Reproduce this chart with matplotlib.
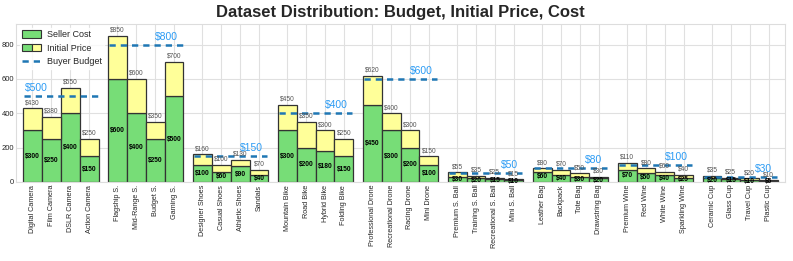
import numpy as np
import matplotlib.pyplot as plt
import seaborn as sns
from matplotlib.patches import Patch
from matplotlib.lines import Line2D
from matplotlib.legend_handler import HandlerTuple

sns.set_style('whitegrid')
plt.rcParams['font.family'] = ['Liberation Sans', 'DejaVu Sans']

items = [
    ['Digital Camera', 'Film Camera', 'DSLR Camera', 'Action Camera'],
    ['Flagship S.', 'Mid-Range S.', 'Budget S.', 'Gaming S.'],
    ['Designer Shoes', 'Casual Shoes', 'Athletic Shoes', 'Sandals'],
    ['Mountain Bike', 'Road Bike', 'Hybrid Bike', 'Folding Bike'],
    ['Professional Drone', 'Recreational Drone', 'Racing Drone', 'Mini Drone'],
    ['Premium S. Ball', 'Training S. Ball', 'Recreational S. Ball', 'Mini S. Ball'],
    ['Leather Bag', 'Backpack', 'Tote Bag', 'Drawstring Bag'],
    ['Premium Wine', 'Red Wine', 'White Wine', 'Sparkling Wine'],
    ['Ceramic Cup', 'Glass Cup', 'Travel Cup', 'Plastic Cup'],
]
budgets = [500, 800, 150, 400, 600, 50, 80, 100, 30]
initial_price = [
    [430, 380, 550, 250],
    [850, 600, 350, 700],
    [160, 100, 130, 70],
    [450, 350, 300, 250],
    [620, 400, 300, 150],
    [55, 35, 25, 15],
    [80, 70, 50, 30],
    [110, 80, 60, 40],
    [35, 25, 20, 10],
]
seller_cost = [
    [300, 250, 400, 150],
    [600, 400, 250, 500],
    [100, 60, 90, 40],
    [300, 200, 180, 150],
    [450, 300, 200, 100],
    [30, 20, 15, 10],
    [60, 40, 30, 20],
    [70, 50, 40, 25],
    [20, 15, 10, 5],
]

green = '#77dd77'
yellow = '#ffff99'
line_blue = '#1f77b4'
text_blue = '#2b9bf4'

fig = plt.figure(figsize=(7.93, 2.61), dpi=100)
ax = fig.add_axes([0.0202, 0.303, 0.9698, 0.605])

xticks = []
xlabels = []
for g in range(len(items)):
    x = g * 4.5 + np.arange(4)
    ip = np.array(initial_price[g])
    sc = np.array(seller_cost[g])
    ax.bar(x, sc, width=1.0, color=green, edgecolor='#333333', linewidth=0.9, zorder=2)
    ax.bar(x, ip - sc, bottom=sc, width=1.0, color=yellow, edgecolor='#333333',
           linewidth=0.9, zorder=2)
    for xi, p, c in zip(x, ip, sc):
        ax.text(xi, p + 12, f'${p}', ha='center', va='bottom', fontsize=4.8,
                color='#555555', zorder=4)
        ax.text(xi, c / 2, f'${c}', ha='center', va='center', fontsize=4.8,
                fontweight='bold', color='black', zorder=4)
    ax.hlines(budgets[g], x[0] - 0.45, x[-1] + 0.45, colors=line_blue,
              linestyles=(0, (2.5, 2)), linewidth=1.8, zorder=3)
    if g == 0:
        ax.text(x[0] - 0.4, budgets[g] + 18, f'${budgets[g]}', ha='left', va='bottom',
                fontsize=7.5, color=text_blue, zorder=4)
    else:
        ax.text(x[-1] + 0.2, budgets[g] + 18, f'${budgets[g]}', ha='right', va='bottom',
                fontsize=7.5, color=text_blue, zorder=4)
    xticks.extend(x)
    xlabels.extend(items[g])

ax.set_xticks(xticks)
ax.set_xticklabels(xlabels, rotation=90, fontsize=5.2)
ax.set_yticks([0, 200, 400, 600, 800])
ax.tick_params(axis='y', labelsize=5.5, pad=1.5, length=0)
ax.tick_params(axis='x', pad=2, length=0)
ax.set_xlim(-0.87, 39.87)
ax.set_ylim(0, 920)
ax.grid(True, color='#e0e0e0', linewidth=0.8)
for s in ax.spines.values():
    s.set_color('#dddddd')

ax.set_title('Dataset Distribution: Budget, Initial Price, Cost', fontsize=12,
             fontweight='bold', pad=5)

h_cost = Patch(facecolor=green, edgecolor='#333333', linewidth=0.8)
h_price = (Patch(facecolor=green, edgecolor='#333333', linewidth=0.8),
           Patch(facecolor=yellow, edgecolor='#333333', linewidth=0.8))
h_budget = Line2D([], [], color=line_blue, linestyle=(0, (2.5, 2)), linewidth=1.8)
ax.legend([h_cost, h_price, h_budget], ['Seller Cost', 'Initial Price', 'Buyer Budget'],
          handler_map={tuple: HandlerTuple(ndivide=None, pad=0)},
          loc='upper left', fontsize=6.5, frameon=True, framealpha=0.8,
          edgecolor='white', handlelength=2.1, handleheight=0.9,
          handletextpad=0.6, borderpad=0.3, borderaxespad=0.4)

fig.savefig('out.png', dpi=100)
